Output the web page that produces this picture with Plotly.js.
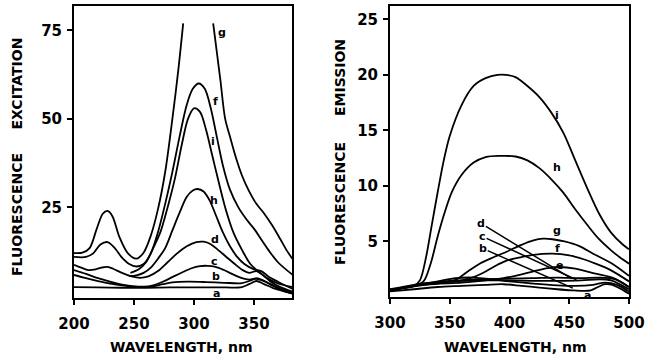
<!DOCTYPE html>
<html>
<head>
<meta charset="utf-8">
<script src="https://cdn.plot.ly/plotly-3.0.1.min.js"></script>
<style>html,body{margin:0;padding:0;background:#fff;}#chart{width:650px;height:358px;}</style>
</head>
<body>
<div id="chart"></div>
<script>
// ---------- Excitation spectra (left panel) ----------
const exG_x = [200, 207, 213, 219, 224, 228, 232, 238, 245, 252, 258, 264, 270, 276, 282, 287, 291, null, 316, 319, 322, 326, 330, 335, 340, 346, 352, 358, 365, 372, 377, 382];
const exG_y = [12.1, 12.2, 13.5, 19, 23.2, 24, 22.5, 16.5, 12, 10.5, 12.2, 17, 24.5, 35, 50, 64, 77, null, 77, 69, 61, 50, 45, 39, 34, 29.5, 26, 23.5, 20, 16, 13, 10.5];
const exF_x = [200, 210, 216, 222, 228, 234, 240, 246, 252, 258, 264, 270, 276, 282, 288, 294, 299, 304, 309, 314, 319, 324, 330, 337, 344, 350, 356, 362, 370, 382];
const exF_y = [11, 11, 12, 14.5, 15.2, 13.5, 10.8, 9, 8.3, 9, 12, 18, 26, 35, 45, 54, 58.5, 60, 58.5, 53, 45, 37, 30, 25, 21.5, 19, 16, 13, 9.5, 6];
const exI_x = [247, 254, 260, 266, 272, 278, 284, 290, 295, 300, 305, 310, 315, 320, 326, 333, 340, 347, 355, 362, 370, 382];
const exI_y = [6.5, 7.5, 9.5, 13.5, 18, 25, 33, 43, 50, 53, 52, 47, 40, 33, 25, 17.8, 13, 9, 6.5, 4.8, 3.5, 2.5];
const exH_x = [246, 252, 258, 264, 270, 276, 282, 288, 294, 299, 303, 308, 313, 318, 324, 330, 336, 342, 350, 356, 362, 370, 382];
const exH_y = [5.6, 5.8, 6.5, 8, 10.5, 13.5, 18.5, 23.5, 28, 29.8, 30.2, 29.5, 27, 23, 18, 14, 11, 9, 7.5, 7, 5.5, 4, 2];
const exD_x = [200, 206, 212, 218, 223, 228, 233, 240, 248, 255, 262, 270, 278, 286, 294, 302, 308, 314, 320, 327, 334, 341, 346, 352, 357, 364, 372, 382];
const exD_y = [8.8, 8, 7.3, 7.5, 8, 8.2, 7.6, 6.5, 5.5, 5.1, 5.5, 7, 9.5, 12, 14, 15.2, 15.3, 14.6, 13, 11, 9, 7.2, 6.5, 7, 6, 4, 2.5, 1.2];
const exC_x = [200, 210, 220, 230, 240, 250, 258, 266, 274, 282, 290, 298, 305, 311, 318, 325, 333, 340, 346, 352, 358, 366, 374, 382];
const exC_y = [7.3, 6.2, 5, 4, 3.2, 2.7, 2.6, 3, 4, 5.3, 6.6, 7.8, 8.4, 8.5, 8.2, 7.3, 6, 5, 4.6, 4.8, 4.2, 3, 1.8, 0.8];
const exB_x = [200, 210, 220, 230, 240, 250, 258, 266, 274, 282, 295, 310, 325, 340, 346, 352, 358, 366, 374, 382];
const exB_y = [5.9, 5, 4.2, 3.5, 3, 2.6, 2.5, 2.7, 3.3, 3.8, 4, 3.9, 3.7, 3.6, 4.2, 5, 4.3, 2.8, 1.5, 0.6];
const exA_x = [200, 220, 240, 260, 280, 300, 320, 340, 346, 352, 358, 366, 374, 382];
const exA_y = [2.5, 2.4, 2.3, 2.3, 2.4, 2.4, 2.4, 2.5, 3.3, 4.2, 3.4, 2.2, 1.4, 0.8];

// ---------- Emission spectra (right panel) ----------
const emI_x = [300, 310, 320, 325, 330, 335, 340, 345, 350, 360, 370, 380, 390, 397, 405, 415, 425, 435, 445, 455, 465, 475, 485, 495, 500];
const emI_y = [0.6, 0.8, 1.0, 1.5, 3.5, 6.5, 9.5, 12.3, 14.5, 17.3, 19, 19.7, 20, 20, 19.8, 19, 18, 16.6, 14.8, 12.3, 9.8, 7.5, 5.8, 4.7, 4.3];
const emH_x = [300, 310, 320, 328, 334, 340, 346, 352, 360, 370, 380, 392, 405, 415, 425, 435, 445, 455, 465, 475, 485, 492, 500];
const emH_y = [0.6, 0.8, 1.0, 1.4, 3, 5.5, 7.7, 9.5, 11, 12.1, 12.6, 12.7, 12.65, 12.3, 11.6, 10.6, 9.4, 7.9, 6.5, 5.2, 4.2, 3.6, 3.0];
const emG_x = [300, 320, 340, 350, 356, 365, 375, 387, 398, 410, 420, 428, 436, 446, 458, 470, 486, 500];
const emG_y = [0.6, 1.0, 1.3, 1.45, 1.6, 2.3, 3.0, 3.6, 4.1, 4.7, 5.1, 5.25, 5.2, 5.0, 4.6, 3.9, 3.0, 1.9];
const emF_x = [300, 320, 345, 360, 370, 380, 390, 398, 410, 420, 436, 450, 462, 472, 485, 500];
const emF_y = [0.6, 1.0, 1.3, 1.5, 1.8, 2.3, 2.9, 3.3, 3.6, 3.8, 3.9, 3.75, 3.4, 3.0, 2.4, 1.4];
const emE_x = [300, 330, 360, 380, 395, 405, 420, 432, 442, 455, 472, 487, 500];
const emE_y = [0.6, 1.1, 1.3, 1.5, 1.7, 1.9, 2.3, 2.6, 2.7, 2.55, 2.1, 1.7, 0.9];
const emD_x = [300, 320, 340, 360, 380, 400, 420, 440, 460, 475, 488, 500];
const emD_y = [0.7, 1.1, 1.35, 1.5, 1.6, 1.65, 1.7, 1.75, 1.7, 1.75, 1.6, 0.9];
const emC_x = [300, 320, 340, 360, 380, 400, 420, 440, 460, 475, 485, 500];
const emC_y = [0.65, 1.05, 1.3, 1.45, 1.5, 1.5, 1.45, 1.45, 1.5, 1.6, 1.5, 0.7];
const emB_x = [300, 320, 340, 355, 370, 385, 400, 420, 440, 455, 470, 480, 490, 500];
const emB_y = [0.6, 1.0, 1.4, 1.7, 1.75, 1.6, 1.4, 1.2, 1.05, 1.0, 1.1, 1.3, 1.1, 0.5];
const emA_x = [300, 320, 340, 360, 380, 395, 410, 425, 440, 452, 462, 468, 474, 480, 486, 492, 500];
const emA_y = [0.5, 0.7, 0.9, 1.0, 1.1, 1.15, 1.0, 0.85, 0.7, 0.6, 0.55, 0.6, 0.9, 1.15, 1.1, 0.8, 0.3];

// ---------- Labels ----------
const exLabels = ['g', 'f', 'i', 'h', 'd', 'c', 'b', 'a'];
const exLabelX = [323, 318, 316, 317, 317.5, 317.5, 318, 319];
const exLabelY = [74.3, 54.9, 43.7, 26.9, 15.8, 9.7, 5.4, 0.8];
const emLabels = ['i', 'h', 'g', 'f', 'e', 'a'];
const emLabelX = [440, 440, 440, 440, 442, 465];
const emLabelY = [16.3, 11.7, 6.0, 4.4, 2.85, 0.15];
const emLeadLabels = ['d', 'c', 'b'];
const emLeadTextX = [376.5, 377.5, 378];
const emLeadTextY = [6.6, 5.45, 4.35];
const emLeadTipX = [452, 456, 453];
const emLeadTipY = [1.65, 1.55, 0.8];

const exTicks = [200, 250, 300, 350];
const exYTicks = [25, 50, 75];
const emTicks = [300, 350, 400, 450, 500];
const emYTicks = [5, 10, 15, 20, 25];

const FONT = 'DejaVu Sans';
const lineStyle = {color: '#000', width: 1.8, shape: 'spline', smoothing: 0.9};

function tr(x, y, xa, ya) {
  return {x: x, y: y, xaxis: xa, yaxis: ya, type: 'scatter', mode: 'lines',
          line: lineStyle, connectgaps: false, hoverinfo: 'skip', showlegend: false};
}

const data = [
  tr(exG_x, exG_y, 'x', 'y'), tr(exF_x, exF_y, 'x', 'y'), tr(exI_x, exI_y, 'x', 'y'),
  tr(exH_x, exH_y, 'x', 'y'), tr(exD_x, exD_y, 'x', 'y'), tr(exC_x, exC_y, 'x', 'y'),
  tr(exB_x, exB_y, 'x', 'y'), tr(exA_x, exA_y, 'x', 'y'),
  tr(emI_x, emI_y, 'x2', 'y2'), tr(emH_x, emH_y, 'x2', 'y2'), tr(emG_x, emG_y, 'x2', 'y2'),
  tr(emF_x, emF_y, 'x2', 'y2'), tr(emE_x, emE_y, 'x2', 'y2'), tr(emD_x, emD_y, 'x2', 'y2'),
  tr(emC_x, emC_y, 'x2', 'y2'), tr(emB_x, emB_y, 'x2', 'y2'), tr(emA_x, emA_y, 'x2', 'y2')
];

const labelFont = {family: FONT, size: 11, color: '#000', weight: 700};
const annotations = [];
exLabels.forEach((t, i) => annotations.push({text: t, x: exLabelX[i], y: exLabelY[i], xref: 'x', yref: 'y', showarrow: false, font: labelFont, borderpad: 0}));
emLabels.forEach((t, i) => annotations.push({text: t, x: emLabelX[i], y: emLabelY[i], xref: 'x2', yref: 'y2', showarrow: false, font: labelFont, borderpad: 0}));
emLeadLabels.forEach((t, i) => annotations.push({text: t, x: emLeadTipX[i], y: emLeadTipY[i], xref: 'x2', yref: 'y2',
  ax: emLeadTextX[i], ay: emLeadTextY[i], axref: 'x2', ayref: 'y2', showarrow: true, arrowhead: 0,
  arrowwidth: 1.5, arrowcolor: '#000', standoff: 0, startstandoff: 0, font: labelFont, borderpad: 0}));

const titleFont = {family: FONT, size: 14, color: '#000', weight: 700};
function pa(text, x, y, rot) {
  return {text: text, x: x / 650, y: 1 - y / 358, xref: 'paper', yref: 'paper', showarrow: false,
          textangle: rot, font: titleFont, xanchor: 'center', yanchor: 'middle'};
}
annotations.push(pa('WAVELENGTH, nm', 181, 347, 0));
annotations.push(pa('WAVELENGTH, nm', 515, 347, 0));
annotations.push(pa('FLUORESCENCE', 17, 215, -90));
annotations.push(pa('EXCITATION', 17, 83.5, -90));
annotations.push(pa('FLUORESCENCE', 340, 204, -90));
annotations.push(pa('EMISSION', 340, 78, -90));

const tickFont = {family: FONT, size: 15, color: '#000', weight: 700};
function axis(extra) {
  return Object.assign({showline: true, linecolor: '#000', linewidth: 2, mirror: true,
    ticks: 'outside', ticklen: 5, tickwidth: 2, tickcolor: '#000', showgrid: false, zeroline: false,
    tickfont: tickFont, fixedrange: true}, extra);
}

const layout = {
  width: 650, height: 358,
  margin: {l: 0, r: 0, t: 0, b: 0},
  paper_bgcolor: '#fff', plot_bgcolor: '#fff',
  showlegend: false,
  xaxis: axis({domain: [74 / 650, 292 / 650], range: [200, 381.7], tickvals: exTicks, anchor: 'y', ticklabelstandoff: 6}),
  yaxis: axis({domain: [(358 - 298) / 358, (358 - 6) / 358], range: [-0.6, 81.9], tickvals: exYTicks, anchor: 'x', ticklabelstandoff: 2}),
  xaxis2: axis({domain: [390 / 650, 629 / 650], range: [300, 500], tickvals: emTicks, anchor: 'y2', ticklabelstandoff: 6}),
  yaxis2: axis({domain: [(358 - 297) / 358, (358 - 6) / 358], range: [0, 26.2], tickvals: emYTicks, anchor: 'x2', ticklabelstandoff: 2}),
  annotations: annotations
};

Plotly.newPlot('chart', data, layout, {staticPlot: true, displayModeBar: false});
</script>
</body>
</html>
